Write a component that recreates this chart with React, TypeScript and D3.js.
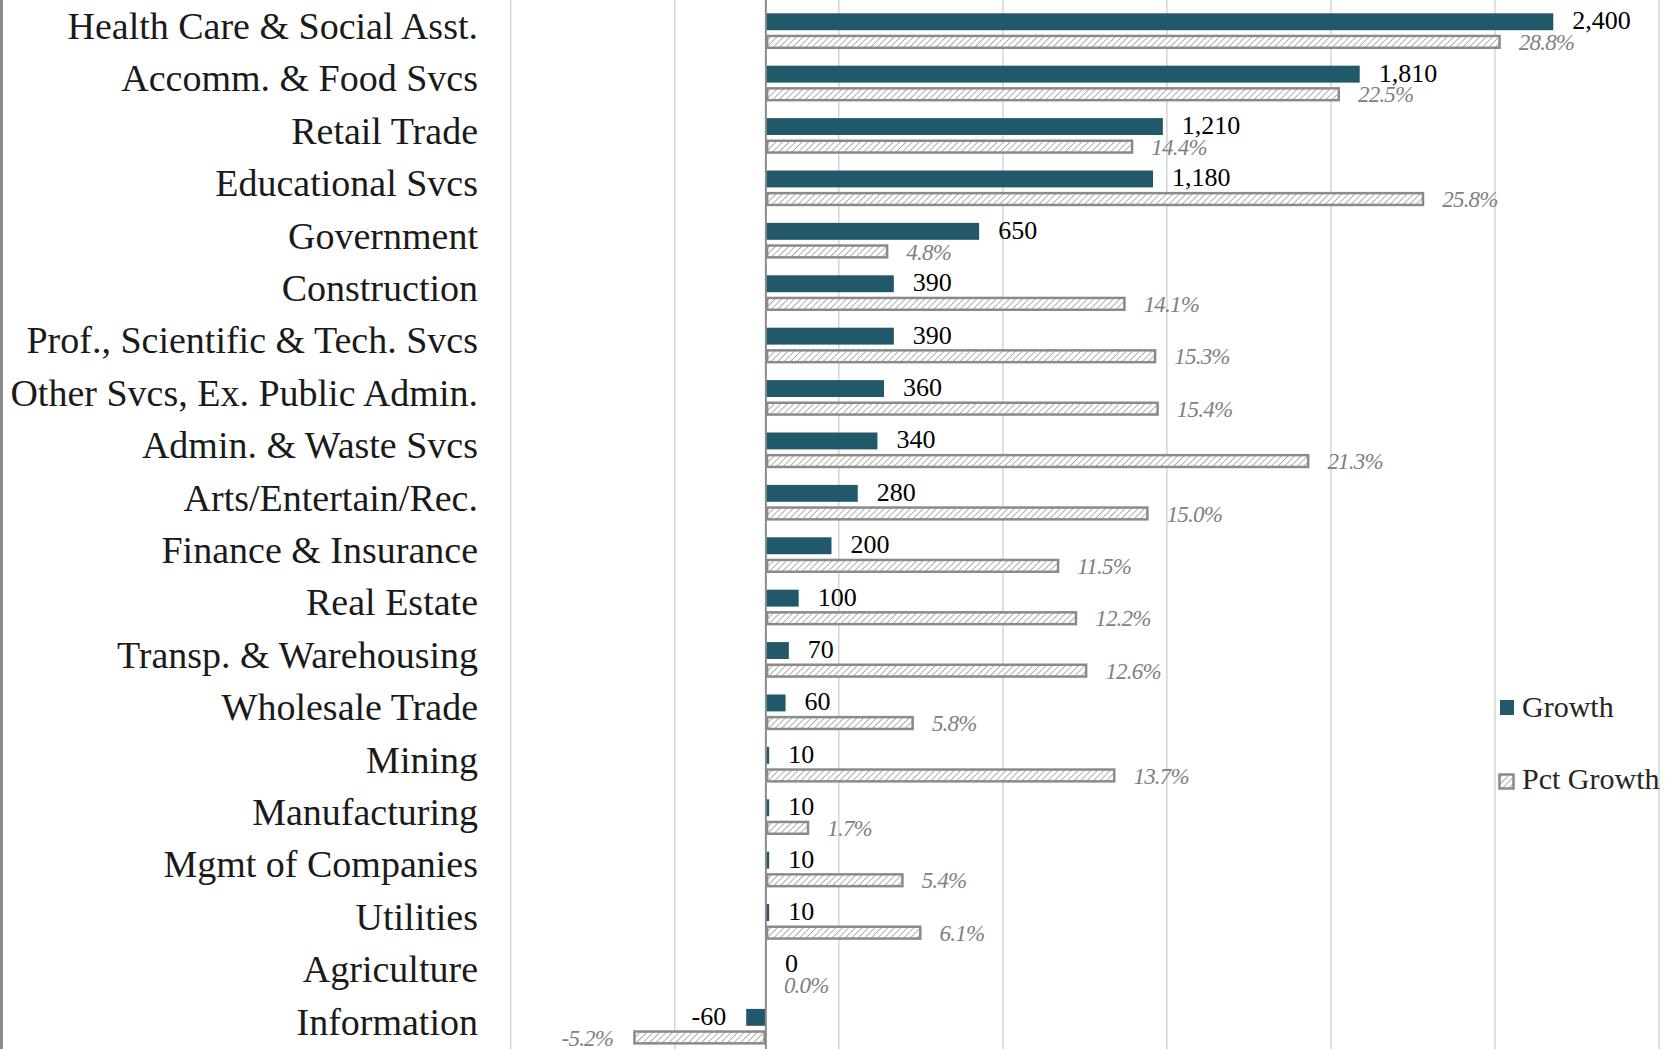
import React, { useEffect } from "react";
import * as d3 from "d3";

const categories = [
  "Health Care & Social Asst.",
  "Accomm. & Food Svcs",
  "Retail Trade",
  "Educational Svcs",
  "Government",
  "Construction",
  "Prof., Scientific & Tech. Svcs",
  "Other Svcs, Ex. Public Admin.",
  "Admin. & Waste Svcs",
  "Arts/Entertain/Rec.",
  "Finance & Insurance",
  "Real Estate",
  "Transp. & Warehousing",
  "Wholesale Trade",
  "Mining",
  "Manufacturing",
  "Mgmt of Companies",
  "Utilities",
  "Agriculture",
  "Information",
];

const growth = [2400, 1810, 1210, 1180, 650, 390, 390, 360, 340, 280, 200, 100, 70, 60, 10, 10, 10, 10, 0, -60];
const pctGrowth = [28.8, 22.5, 14.4, 25.8, 4.8, 14.1, 15.3, 15.4, 21.3, 15.0, 11.5, 12.2, 12.6, 5.8, 13.7, 1.7, 5.4, 6.1, 0.0, -5.2];

const pctDomain = [-10, 35];
const growthMajor = 500;
const growthIntervals = 7;
const legendItems = ["Growth", "Pct Growth"];

const W = 1669;
const H = 1049;
const FONT = "'Liberation Serif', 'Times New Roman', serif";
const TEAL = "#22596a";
const HATCH_STROKE = "#8a8a8a";

export default function App() {
  useEffect(() => {
    document.body.style.margin = "0";
  }, []);

  const plotLeft = 510.7;
  const plotRight = 1659;
  const xPct = d3.scaleLinear().domain(pctDomain).range([plotLeft, plotRight]);
  const span = growthMajor * growthIntervals;
  const growthMin = (pctDomain[0] / (pctDomain[1] - pctDomain[0])) * span;
  const xGrowth = d3.scaleLinear().domain([growthMin, growthMin + span]).range([plotLeft, plotRight]);
  const gridValues = d3.range(0, growthIntervals + 1).map((k) => growthMin + k * growthMajor);

  const step = 52.4;
  const yTop = 5.2;
  const y = d3.scaleBand().domain(categories).range([yTop, yTop + categories.length * step]).padding(0);

  const locale = d3.formatLocale({ decimal: ".", thousands: ",", grouping: [3], currency: ["$", ""], minus: "-" });
  const fmtGrowth = locale.format(",");
  const fmtPct = (v: number) => v.toFixed(1) + "%";

  const gBarOff = 8.1;
  const gBarH = 16.9;
  const pBarOff = 29.5;
  const pBarH = 14.3;
  const zeroX = xGrowth(0);

  return (
    <div style={{ position: "absolute", left: 0, top: 0 }}>
      <svg width={W} height={H} style={{ display: "block", background: "#fff" }} fontFamily={FONT}>
        <defs>
          <pattern id="hatch" patternUnits="userSpaceOnUse" width="4.6" height="4.6" patternTransform="rotate(45)">
            <rect width="4.6" height="4.6" fill="#fff" />
            <line x1="0" y1="0" x2="0" y2="4.6" stroke="#9c9c9c" strokeWidth="1.6" />
          </pattern>
        </defs>
        <rect x={0} y={0} width={W} height={H} fill="#fff" />
        {/* chart border (left) */}
        <line x1={1.5} y1={0} x2={1.5} y2={H} stroke="#8c8c8c" strokeWidth={3} />

        {/* gridlines */}
        {gridValues.map((v, i) => (
          <line key={"g" + i} x1={xGrowth(v)} x2={xGrowth(v)} y1={0} y2={H} stroke="#d4d4d4" strokeWidth={1.5} />
        ))}

        {/* bars */}
        {categories.map((c, i) => {
          const b = y(c) as number;
          const gv = growth[i];
          const pv = pctGrowth[i];
          const gx0 = Math.min(xGrowth(0), xGrowth(gv));
          const gw = Math.abs(xGrowth(gv) - xGrowth(0));
          const px0 = Math.min(xPct(0), xPct(pv));
          const pw = Math.abs(xPct(pv) - xPct(0));
          return (
            <g key={c}>
              {gw > 0 && <rect x={gx0} y={b + gBarOff} width={gw} height={gBarH} fill={TEAL} />}
              {pw > 0 && (
                <rect
                  x={px0 + 1.25}
                  y={b + pBarOff + 1.25}
                  width={Math.max(0, pw - 2.5)}
                  height={pBarH - 2.5}
                  fill="url(#hatch)"
                  stroke={HATCH_STROKE}
                  strokeWidth={2.5}
                />
              )}
            </g>
          );
        })}

        {/* zero axis */}
        <line x1={zeroX} x2={zeroX} y1={0} y2={H} stroke="#8c8c8c" strokeWidth={2} />

        {/* data labels */}
        {categories.map((c, i) => {
          const b = y(c) as number;
          const gv = growth[i];
          const pv = pctGrowth[i];
          const gEnd = xGrowth(gv);
          const pEnd = xPct(pv);
          return (
            <g key={"l" + c}>
              <text
                x={gv < 0 ? gEnd - 20 : gEnd + 19}
                y={b + gBarOff + gBarH - 1}
                textAnchor={gv < 0 ? "end" : "start"}
                fontSize={26}
                fill="#000"
              >
                {fmtGrowth(gv)}
              </text>
              <text
                x={pv < 0 ? pEnd - 20 : pEnd + 18}
                y={b + pBarOff + pBarH + 1}
                textAnchor={pv < 0 ? "end" : "start"}
                fontSize={23}
                letterSpacing={-0.8}
                fontStyle="italic"
                fill="#808080"
              >
                {fmtPct(pv)}
              </text>
            </g>
          );
        })}

        {/* category labels */}
        {categories.map((c) => (
          <text key={"c" + c} x={478} y={(y(c) as number) + step / 2 + 7.5} textAnchor="end" fontSize={38} fill="#1a1a1a">
            {c}
          </text>
        ))}

        {/* legend */}
        <g>
          <rect x={1500} y={700} width={14} height={15} fill={TEAL} />
          <text x={1522} y={717} fontSize={30} fill="#262626">
            {legendItems[0]}
          </text>
          <rect x={1499.5} y={774.5} width={14} height={14} fill="url(#hatch)" stroke={HATCH_STROKE} strokeWidth={2.5} />
          <text x={1522} y={789} fontSize={30} fill="#262626">
            {legendItems[1]}
          </text>
        </g>
      </svg>
    </div>
  );
}
